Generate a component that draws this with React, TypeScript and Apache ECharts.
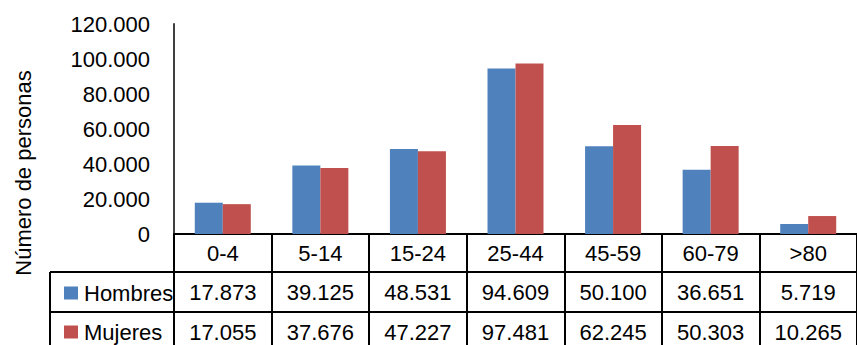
import React, { useEffect, useRef } from "react";
import * as echarts from "echarts";

const categories = ["0-4", "5-14", "15-24", "25-44", "45-59", "60-79", ">80"];
const hombres = [17873, 39125, 48531, 94609, 50100, 36651, 5719];
const mujeres = [17055, 37676, 47227, 97481, 62245, 50303, 10265];
const seriesNames = ["Hombres", "Mujeres"];
const seriesColors = ["#4F81BD", "#C0504D"];
const yTicks = { min: 0, max: 120000, interval: 20000 };
const yTitle = "Número de personas";

const FONT = "'Liberation Sans', Arial, sans-serif";
const FS = 22;

const fmt = (n: number) => String(Math.round(n)).replace(/\B(?=(\d{3})+(?!\d))/g, ".");

export default function App() {
  const ref = useRef<HTMLDivElement>(null);
  useEffect(() => {
    if (!ref.current) return;
    const chart = echarts.init(ref.current, undefined, { renderer: "svg" });
    const line = { show: true, lineStyle: { color: "#000", width: 2 } };
    const tableAxis = (data: string[], offset: number, margin: number) => ({
      type: "category",
      position: "bottom",
      offset,
      data,
      boundaryGap: true,
      axisLine: line,
      axisTick: { show: true, alignWithLabel: false, length: 40, lineStyle: { color: "#000", width: 2 } },
      axisLabel: {
        interval: 0,
        margin,
        color: "#000",
        fontFamily: FONT,
        fontSize: FS,
        lineHeight: 22,
        verticalAlign: "top",
      },
      splitLine: { show: false },
    });
    const legendFor = (i: number, top: number) => ({
      orient: "horizontal",
      left: 59,
      top,
      itemWidth: 14,
      itemHeight: 13,
      icon: "rect",
      selectedMode: false,
      textStyle: { color: "#000", fontFamily: FONT, fontSize: FS, lineHeight: 22, padding: [0, 0, 0, 1] },
      data: [seriesNames[i]],
    });
    chart.setOption({
      animation: false,
      textStyle: { fontFamily: FONT },
      grid: { left: 174, right: -9, top: 24, bottom: 111, containLabel: false },
      legend: [legendFor(0, 277), legendFor(1, 316)],
      xAxis: [
        tableAxis(categories, 0, 8),
        tableAxis(hombres.map(fmt), 38, 9),
        tableAxis(mujeres.map(fmt), 78, 9),
      ],
      yAxis: {
        type: "value",
        min: yTicks.min,
        max: yTicks.max,
        interval: yTicks.interval,
        axisLine: { show: true, lineStyle: { color: "#404040", width: 2 } },
        axisTick: { show: false },
        splitLine: { show: false },
        axisLabel: {
          margin: 24,
          color: "#000",
          fontFamily: FONT,
          fontSize: FS,
          formatter: (v: number) => fmt(v),
        },
      },
      series: [
        {
          name: seriesNames[0],
          type: "bar",
          xAxisIndex: 0,
          data: hombres,
          barWidth: 28,
          barGap: "0%",
          itemStyle: { color: seriesColors[0] },
        },
        {
          name: seriesNames[1],
          type: "bar",
          xAxisIndex: 0,
          data: mujeres,
          barWidth: 28,
          barGap: "0%",
          itemStyle: { color: seriesColors[1] },
        },
      ],
      graphic: [
        { type: "line", shape: { x1: 50, y1: 272, x2: 50, y2: 352 }, style: { stroke: "#000", lineWidth: 2 } },
        { type: "line", shape: { x1: 50, y1: 272, x2: 175, y2: 272 }, style: { stroke: "#000", lineWidth: 2 } },
        { type: "line", shape: { x1: 50, y1: 312, x2: 175, y2: 312 }, style: { stroke: "#000", lineWidth: 2 } },
        {
          type: "text",
          x: 23,
          y: 173,
          rotation: Math.PI / 2,
          style: {
            text: yTitle,
            fill: "#000",
            font: `${FS}px ${FONT}`,
            textAlign: "center",
            textVerticalAlign: "middle",
          },
        },
      ],
    });
    return () => chart.dispose();
  }, []);
  return <div ref={ref} style={{ width: 857, height: 345, position: "absolute", left: 0, top: 0 }} />;
}
